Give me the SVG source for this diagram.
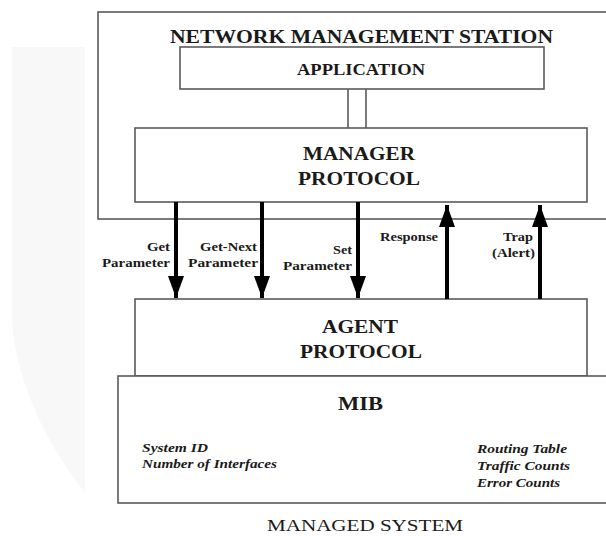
<svg xmlns="http://www.w3.org/2000/svg" width="606" height="536" viewBox="0 0 606 536">
<style>
.box{fill:#fff;stroke:#5a5a5a;stroke-width:1.6}
.t{font-family:"Liberation Serif",serif;font-weight:bold;fill:#1a1a1a}
.lbl{font-family:"Liberation Serif",serif;font-weight:bold;font-size:12px;fill:#1a1a1a}
.it{font-family:"Liberation Serif",serif;font-weight:bold;font-style:italic;font-size:12px;fill:#1a1a1a}
.arr{stroke:#000;stroke-width:4;fill:none}
</style>
<defs>
<marker id="ah" viewBox="0 0 22 16" refX="22" refY="8" markerWidth="22" markerHeight="16" markerUnits="userSpaceOnUse" orient="auto">
<path d="M0,0 L22,8 L0,16 Z" fill="#000"/>
</marker>
</defs>
<rect width="606" height="536" fill="#fff"/>
<path d="M12,47 H85 V493 C40,435 12,370 12,310 Z" fill="#f8f8f8"/>
<g id="nms">
<rect class="box" x="98" y="12" width="512" height="207"/>
<text class="t" x="170" y="43" font-size="19" textLength="383" lengthAdjust="spacingAndGlyphs">NETWORK MANAGEMENT STATION</text>
</g>
<g id="application">
<rect class="box" x="180" y="47" width="364" height="42"/>
<text class="t" x="297" y="75" font-size="16" textLength="128" lengthAdjust="spacingAndGlyphs">APPLICATION</text>
</g>
<g id="manager">
<rect class="box" x="135" y="128" width="452" height="74"/>
<text class="t" x="303" y="160" font-size="18" textLength="112" lengthAdjust="spacingAndGlyphs">MANAGER</text>
<text class="t" x="298" y="185" font-size="18" textLength="122" lengthAdjust="spacingAndGlyphs">PROTOCOL</text>
</g>
<g id="agent">
<rect class="box" x="135" y="299" width="452" height="77"/>
<text class="t" x="322" y="333" font-size="18" textLength="76" lengthAdjust="spacingAndGlyphs">AGENT</text>
<text class="t" x="300" y="358" font-size="18" textLength="122" lengthAdjust="spacingAndGlyphs">PROTOCOL</text>
</g>
<g id="mib">
<rect class="box" x="118" y="376" width="492" height="127"/>
<text class="t" x="338" y="410" font-size="18" textLength="45" lengthAdjust="spacingAndGlyphs">MIB</text>
<text class="it" x="142" y="452" textLength="66" lengthAdjust="spacingAndGlyphs">System ID</text>
<text class="it" x="142" y="468" textLength="135" lengthAdjust="spacingAndGlyphs">Number of Interfaces</text>
<text class="it" x="477" y="453" textLength="90" lengthAdjust="spacingAndGlyphs">Routing Table</text>
<text class="it" x="477" y="470" textLength="93" lengthAdjust="spacingAndGlyphs">Traffic Counts</text>
<text class="it" x="477" y="487" textLength="83" lengthAdjust="spacingAndGlyphs">Error Counts</text>
</g>
<g id="managed-system">
<text x="267" y="531" font-family="'Liberation Serif',serif" font-size="16" fill="#1a1a1a" textLength="196" lengthAdjust="spacingAndGlyphs">MANAGED SYSTEM</text>
</g>
<g id="connectors">
<line x1="348" y1="89" x2="348" y2="128" stroke="#5a5a5a" stroke-width="1.6"/>
<line x1="366" y1="89" x2="366" y2="128" stroke="#5a5a5a" stroke-width="1.6"/>
<line class="arr" x1="176" y1="202" x2="176" y2="298" marker-end="url(#ah)"/>
<line class="arr" x1="262" y1="202" x2="262" y2="298" marker-end="url(#ah)"/>
<line class="arr" x1="358" y1="202" x2="358" y2="298" marker-end="url(#ah)"/>
<line class="arr" x1="447" y1="299" x2="447" y2="205" marker-end="url(#ah)"/>
<line class="arr" x1="540" y1="299" x2="540" y2="205" marker-end="url(#ah)"/>
<text class="lbl" x="147" y="251" textLength="23" lengthAdjust="spacingAndGlyphs">Get</text>
<text class="lbl" x="102" y="267" textLength="68" lengthAdjust="spacingAndGlyphs">Parameter</text>
<text class="lbl" x="200" y="251" textLength="57" lengthAdjust="spacingAndGlyphs">Get-Next</text>
<text class="lbl" x="188" y="267" textLength="70" lengthAdjust="spacingAndGlyphs">Parameter</text>
<text class="lbl" x="333" y="254" textLength="19" lengthAdjust="spacingAndGlyphs">Set</text>
<text class="lbl" x="283" y="270" textLength="69" lengthAdjust="spacingAndGlyphs">Parameter</text>
<text class="lbl" x="380" y="241" textLength="58" lengthAdjust="spacingAndGlyphs">Response</text>
<text class="lbl" x="503" y="241" textLength="30" lengthAdjust="spacingAndGlyphs">Trap</text>
<text class="lbl" x="492" y="257" textLength="43" lengthAdjust="spacingAndGlyphs">(Alert)</text>
</g>
</svg>
